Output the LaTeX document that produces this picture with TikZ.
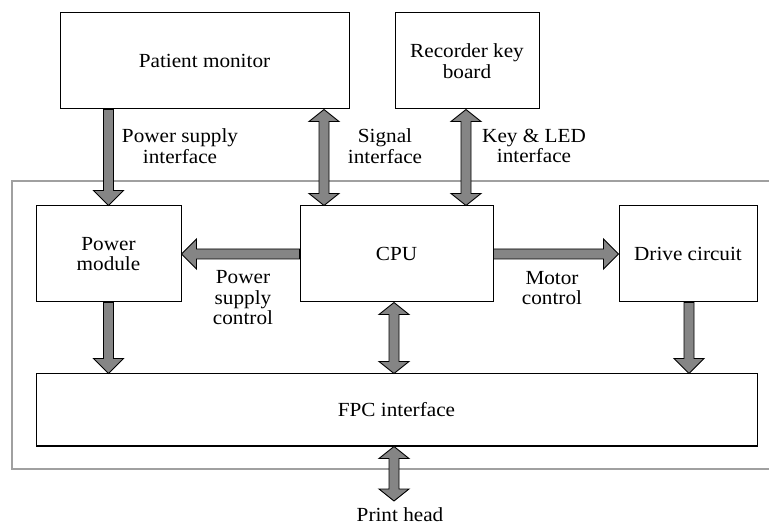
\documentclass[tikz,border=0pt]{standalone}
\usepackage{fontspec}
\setmainfont{Liberation Serif}[FakeStretch=1.06]
\usetikzlibrary{calc}
\definecolor{arrowgray}{HTML}{858585}
\definecolor{framegray}{HTML}{A0A0A0}
\tikzset{
  blk/.style={draw=black, line width=1pt, fill=white, rectangle, inner sep=0pt, align=center},
  lbl/.style={align=center, inner sep=0pt},
  fat/.style={draw=black, fill=arrowgray, line width=0.9pt, line join=miter},
}
% single fat arrow from #1 to #2
\newcommand\fatone[2]{%
  \path[fat] let \p1=#1, \p2=#2, \n1={veclen(\x2-\x1,\y2-\y1)}, \n2={atan2(\y2-\y1,\x2-\x1)} in
    [shift={(\p1)}, rotate=\n2]
    (0pt,-5pt) -- (\n1-15pt,-5pt) -- (\n1-15pt,-15pt) -- (\n1,0pt) --
    (\n1-15pt,15pt) -- (\n1-15pt,5pt) -- (0pt,5pt) -- cycle;}
% double fat arrow between #1 and #2
\newcommand\fattwo[2]{%
  \path[fat] let \p1=#1, \p2=#2, \n1={veclen(\x2-\x1,\y2-\y1)}, \n2={atan2(\y2-\y1,\x2-\x1)} in
    [shift={(\p1)}, rotate=\n2]
    (0pt,0pt) -- (12pt,-15pt) -- (12pt,-5pt) -- (\n1-12pt,-5pt) -- (\n1-12pt,-15pt) -- (\n1,0pt) --
    (\n1-12pt,15pt) -- (\n1-12pt,5pt) -- (12pt,5pt) -- (12pt,15pt) -- cycle;}
\begin{document}
\begin{tikzpicture}[x=1pt, y=-1pt, font=\fontsize{20}{20.5}\selectfont]
\useasboundingbox[fill=white] (0,0) rectangle (769,529);
% outer frame (open on the right)
\draw[framegray, line width=2pt] (769,181) -- (12,181) -- (12,469) -- (769,469);
% blocks
\node[blk, minimum width=289pt, minimum height=96pt] (pm) at (204.5,61) {Patient monitor};
\node[blk, minimum width=144pt, minimum height=96pt] (rk) at (467,61) {Recorder key\\board};
\node[blk, minimum width=145pt, minimum height=96pt] (pw) at (108.5,254) {Power\\module};
\node[blk, minimum width=193pt, minimum height=96pt] (cpu) at (396.5,254) {CPU};
\node[blk, minimum width=138pt, minimum height=96pt] (dc) at (688,254) {Drive circuit};
\node[blk, minimum width=721pt, minimum height=72pt] (fpc) at (396.5,410) {FPC interface};
\node[lbl] (ph) at (400,515) {Print head};
\coordinate (phtop) at (394,501);
% arrow x positions
\coordinate (xsig) at (324,0);
\coordinate (xkey) at (466,0);
\coordinate (xmid) at (394,0);
\coordinate (xdc) at (689,0);
% arrows
\fatone{(pw.north |- pm.south)}{(pw.north)}
\fattwo{(xsig |- pm.south)}{(xsig |- cpu.north)}
\fattwo{(xkey |- rk.south)}{(xkey |- cpu.north)}
\fatone{(cpu.west)}{(pw.east)}
\fatone{(cpu.east)}{(dc.west)}
\fatone{(pw.south)}{(pw.south |- fpc.north)}
\fattwo{(xmid |- cpu.south)}{(xmid |- fpc.north)}
\fatone{(xdc |- dc.south)}{(xdc |- fpc.north)}
\fattwo{(xmid |- fpc.south)}{(phtop)}
% labels
\node[lbl] (l1) at (180,146) {Power supply\\interface};
\node[lbl] (l2) at (385,146) {Signal\\interface};
\node[lbl] (l3) at (534,146) {Key \& LED\\interface};
\node[lbl] (l4) at (243,298) {Power\\supply\\control};
\node[lbl] (l5) at (552,288) {Motor\\control};
\end{tikzpicture}
\end{document}
